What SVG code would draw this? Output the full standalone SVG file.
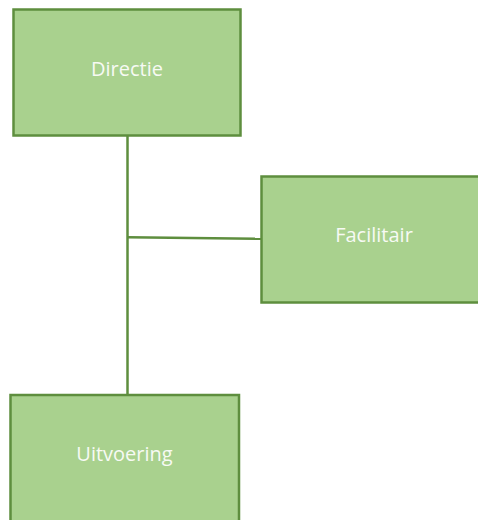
<svg xmlns="http://www.w3.org/2000/svg" width="478" height="520" viewBox="0 0 478 520">
<style>
.box{fill:#A9D18E;stroke:#5E8E3E;stroke-width:2.5}
.lbl{font-family:"Open Sans","Liberation Sans",sans-serif;font-size:20px;fill:#F7FAF4;text-anchor:middle}
.conn{stroke:#5E8E3E;stroke-width:2.5;fill:none}
</style>
<rect width="478" height="520" fill="#FFFFFF"/>
<g id="connectors">
<line class="conn" x1="127.5" y1="135.5" x2="127.5" y2="395"/>
<line class="conn" x1="127.5" y1="237.3" x2="261" y2="238.7"/>
</g>
<g id="directie">
<rect class="box" x="13.5" y="9.5" width="227" height="126"/>
<text class="lbl" x="127" y="76">Directie</text>
</g>
<g id="facilitair">
<rect class="box" x="261.5" y="176.5" width="225" height="126"/>
<text class="lbl" x="374" y="242">Facilitair</text>
</g>
<g id="uitvoering">
<rect class="box" x="10.5" y="395" width="228.5" height="130"/>
<text class="lbl" x="124.5" y="461">Uitvoering</text>
</g>
</svg>
